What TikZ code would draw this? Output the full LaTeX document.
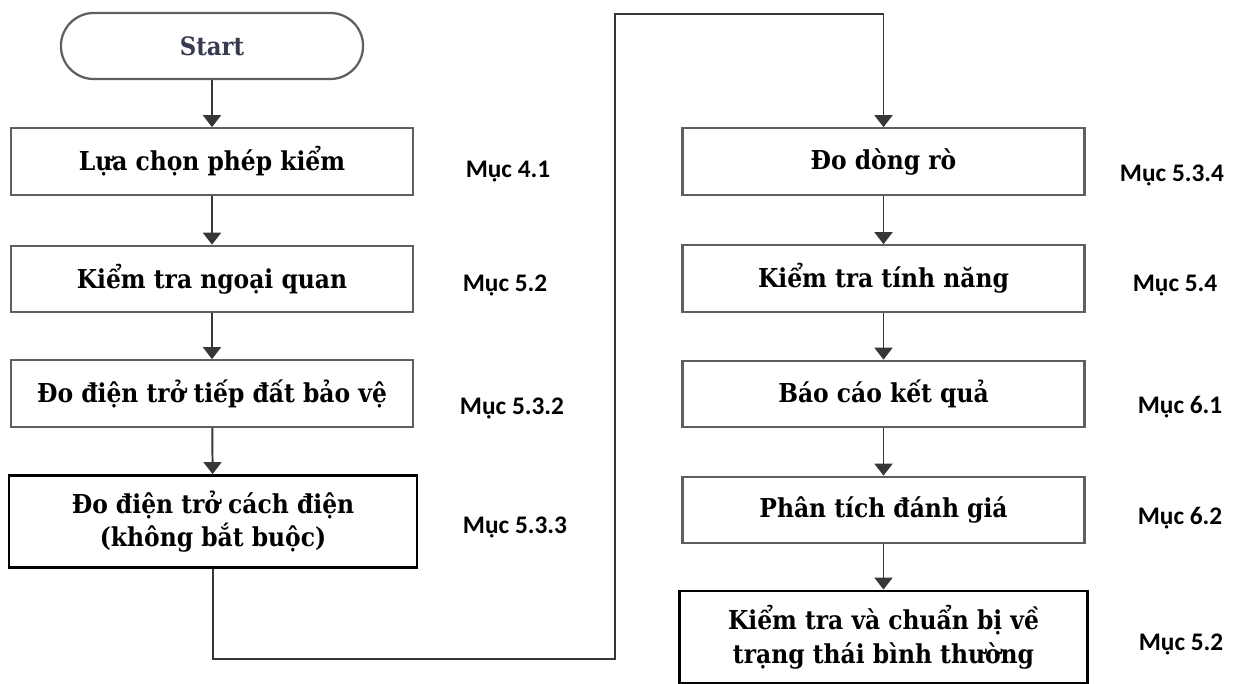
\documentclass[tikz,border=0pt]{standalone}
\usepackage{fontspec}
\setmainfont{DejaVu Serif Condensed}
\newfontfamily\mucfont{Carlito}
\usetikzlibrary{arrows.meta}
\definecolor{boxgray}{RGB}{95,95,95}
\definecolor{linegray}{RGB}{55,55,55}
\definecolor{startblue}{RGB}{55,58,80}

\begin{document}
\begin{tikzpicture}[x=0.025cm,y=-0.025cm,
  buoc/.style={draw=boxgray,line width=1.6pt,fill=white,minimum width=10.05cm,minimum height=1.66cm,align=center,font=\fontsize{18.5}{24}\selectfont\bfseries},
  buocden/.style={buoc,draw=black,line width=2pt,minimum width=10.2cm,minimum height=2.3cm},
  muc/.style={font=\mucfont\fontsize{18}{20}\selectfont\bfseries},
  mui/.style={-{Triangle[width=0.45cm,length=0.3cm]},line width=1.4pt,draw=linegray}]
\useasboundingbox (0,0) rectangle (1238,684);

% left column
\node[draw=boxgray,line width=1.6pt,rounded corners=0.82cm,minimum width=7.55cm,minimum height=1.65cm,text=startblue,font=\fontsize{18}{22}\selectfont\bfseries] (start) at (212,46) {Start};
\node[buoc] (b1) at (212,161.5) {Lựa chọn phép kiểm};
\node[buoc] (b2) at (212,279) {Kiểm tra ngoại quan};
\node[buoc] (b3) at (212,393.5) {Đo điện trở tiếp đất bảo vệ};
\node[buocden] (b4) at (213,521.5) {Đo điện trở cách điện\\(không bắt buộc)};

% right column
\node[buoc] (b5) at (883.5,161.5) {Đo dòng rò};
\node[buoc] (b6) at (883.5,278.5) {Kiểm tra tính năng};
\node[buoc] (b7) at (883.5,394) {Báo cáo kết quả};
\node[buoc] (b8) at (883.5,510) {Phân tích đánh giá};
\node[buocden] (b9) at (883.5,637) {Kiểm tra và chuẩn bị về\\trạng thái bình thường};

% section labels
\node[muc] (m1) at (508,172) {Mục 4.1};
\node[muc] (m2) at (505,285) {Mục 5.2};
\node[muc] (m3) at (512,408) {Mục 5.3.2};
\node[muc] (m4) at (515,527) {Mục 5.3.3};
\node[muc] (m5) at (1172,175) {Mục 5.3.4};
\node[muc] (m6) at (1175,286) {Mục 5.4};
\node[muc] (m7) at (1180,407) {Mục 6.1};
\node[muc] (m8) at (1180,518) {Mục 6.2};
\node[muc] (m9) at (1181,644) {Mục 5.2};

\draw[mui] (start) -- (b1);
\draw[mui] (b1) -- (b2);
\draw[mui] (b2) -- (b3);
\draw[mui] (b3) -- (b4);
\coordinate (g1) at (615,659);
\coordinate (g2) at (615,14);
\draw[mui] (b4.south) |- (g1) -- (g2) -| (b5.north);
\draw[mui] (b5) -- (b6);
\draw[mui] (b6) -- (b7);
\draw[mui] (b7) -- (b8);
\draw[mui] (b8) -- (b9);

\end{tikzpicture}
\end{document}
